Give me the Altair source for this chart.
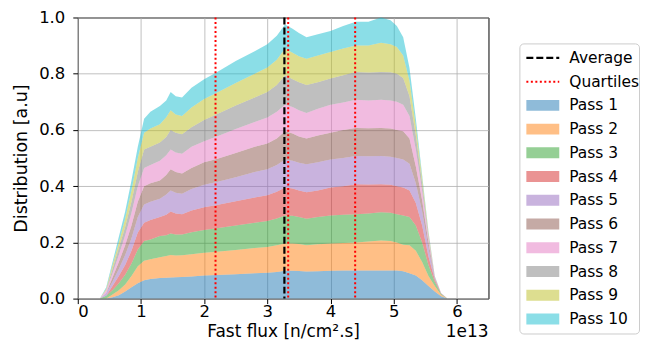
import altair as alt
import pandas as pd

# ---------------- data ----------------
flux = [0.35, 0.45, 0.55, 0.65, 0.75, 0.85, 0.95, 1.05, 1.15, 1.30, 1.40, 1.47, 1.55, 1.65,
        1.80, 2.00, 2.20, 2.50, 2.80, 3.00, 3.15, 3.28, 3.40, 3.50, 3.62, 3.80, 4.00, 4.20,
        4.40, 4.60, 4.80, 4.95, 5.05, 5.15, 5.25, 5.35, 5.45, 5.55, 5.65, 5.75, 5.85]

# upper boundary of each stacked pass (cumulative distribution)
top_pass1 = [0, 0.0, 0.005, 0.012, 0.025, 0.04, 0.055, 0.065, 0.07, 0.073, 0.074, 0.075, 0.076, 0.077,
             0.079, 0.082, 0.084, 0.087, 0.09, 0.092, 0.095, 0.099, 0.099, 0.098, 0.096, 0.097, 0.099, 0.1,
             0.1, 0.1, 0.1, 0.1, 0.1, 0.097, 0.09, 0.082, 0.065, 0.045, 0.025, 0.008, 0]
top_pass2 = [0, 0.0, 0.015, 0.03, 0.05, 0.08, 0.115, 0.135, 0.14, 0.147, 0.152, 0.155, 0.153, 0.154,
             0.158, 0.163, 0.167, 0.173, 0.18, 0.184, 0.19, 0.196, 0.196, 0.194, 0.19, 0.193, 0.196, 0.198,
             0.2, 0.203, 0.207, 0.205, 0.2, 0.192, 0.19, 0.17, 0.13, 0.08, 0.045, 0.014, 0]
top_pass3 = [0, 0.01, 0.03, 0.055, 0.085, 0.125, 0.175, 0.205, 0.21, 0.223, 0.225, 0.232, 0.228, 0.228,
             0.236, 0.244, 0.25, 0.26, 0.27, 0.276, 0.285, 0.296, 0.295, 0.29, 0.284, 0.29, 0.296, 0.298,
             0.3, 0.303, 0.307, 0.305, 0.3, 0.296, 0.29, 0.26, 0.2, 0.12, 0.06, 0.017, 0]
top_pass4 = [0, 0.01, 0.045, 0.08, 0.12, 0.17, 0.235, 0.27, 0.28, 0.29, 0.298, 0.31, 0.303, 0.3,
             0.313, 0.325, 0.333, 0.346, 0.36, 0.368, 0.38, 0.395, 0.392, 0.385, 0.378, 0.385, 0.395, 0.4,
             0.407, 0.406, 0.407, 0.405, 0.4, 0.395, 0.385, 0.34, 0.26, 0.15, 0.068, 0.018, 0]
top_pass5 = [0, 0.02, 0.06, 0.105, 0.155, 0.215, 0.29, 0.335, 0.345, 0.355, 0.37, 0.385, 0.377, 0.373,
             0.39, 0.405, 0.415, 0.432, 0.45, 0.46, 0.475, 0.495, 0.49, 0.483, 0.478, 0.485, 0.495, 0.5,
             0.507, 0.506, 0.507, 0.505, 0.5, 0.495, 0.48, 0.41, 0.31, 0.18, 0.072, 0.019, 0]
top_pass6 = [0, 0.02, 0.075, 0.13, 0.19, 0.26, 0.345, 0.4, 0.41, 0.42, 0.44, 0.46, 0.45, 0.445,
             0.465, 0.485, 0.497, 0.518, 0.54, 0.552, 0.57, 0.595, 0.587, 0.577, 0.57, 0.58, 0.59, 0.6,
             0.607, 0.606, 0.607, 0.605, 0.6, 0.595, 0.57, 0.47, 0.35, 0.2, 0.075, 0.019, 0]
top_pass7 = [0, 0.03, 0.09, 0.155, 0.225, 0.305, 0.4, 0.465, 0.475, 0.49, 0.51, 0.53, 0.52, 0.515,
             0.54, 0.56, 0.577, 0.603, 0.628, 0.644, 0.665, 0.69, 0.682, 0.67, 0.66, 0.675, 0.69, 0.698,
             0.707, 0.705, 0.707, 0.705, 0.7, 0.69, 0.65, 0.53, 0.385, 0.215, 0.077, 0.02, 0]
top_pass8 = [0, 0.03, 0.105, 0.18, 0.255, 0.345, 0.45, 0.53, 0.54, 0.555, 0.575, 0.6, 0.59, 0.585,
             0.61, 0.635, 0.656, 0.687, 0.715, 0.735, 0.76, 0.795, 0.78, 0.77, 0.76, 0.77, 0.783, 0.795,
             0.806, 0.804, 0.806, 0.805, 0.8, 0.785, 0.72, 0.58, 0.41, 0.225, 0.078, 0.02, 0]
top_pass9 = [0, 0.035, 0.12, 0.2, 0.285, 0.385, 0.5, 0.59, 0.605, 0.62, 0.645, 0.67, 0.655, 0.65,
             0.68, 0.71, 0.732, 0.767, 0.8, 0.822, 0.85, 0.89, 0.875, 0.862, 0.853, 0.865, 0.877, 0.89,
             0.9, 0.9, 0.91, 0.905, 0.895, 0.865, 0.775, 0.615, 0.43, 0.235, 0.079, 0.02, 0]
top_pass10 = [0, 0.04, 0.13, 0.22, 0.31, 0.42, 0.54, 0.64, 0.665, 0.685, 0.705, 0.735, 0.72, 0.715,
              0.75, 0.78, 0.805, 0.845, 0.88, 0.905, 0.935, 0.975, 0.96, 0.945, 0.93, 0.94, 0.952, 0.97,
              0.985, 0.985, 1.0, 0.99, 0.97, 0.93, 0.82, 0.64, 0.44, 0.24, 0.08, 0.02, 0]

average_flux = [3.27]
quartile_flux = [2.18, 3.33, 4.39]

pass_names = ["Pass %d" % i for i in range(1, 11)]
pass_colors = ["#1f77b4", "#ff7f0e", "#2ca02c", "#d62728", "#9467bd",
               "#8c564b", "#e377c2", "#7f7f7f", "#bcbd22", "#17becf"]
legend_names = ["Average", "Quartiles"] + pass_names
x_ticks = [0, 1, 2, 3, 4, 5, 6]
y_ticks = [0.0, 0.2, 0.4, 0.6, 0.8, 1.0]

FONT = "DejaVu Sans"
PLOT_W, PLOT_H = 412, 282

# ---------------- build the table ----------------
tops = [top_pass1, top_pass2, top_pass3, top_pass4, top_pass5,
        top_pass6, top_pass7, top_pass8, top_pass9, top_pass10]
rows = []
prev = [0.0] * len(flux)
for name, top in zip(pass_names, tops):
    for xv, lo, hi in zip(flux, prev, top):
        rows.append({"x": xv, "lo": lo, "hi": hi, "series": name})
    prev = top
df = pd.DataFrame(rows)

X = alt.X("x:Q",
          scale=alt.Scale(domain=[0, 6.5], nice=False, zero=False),
          axis=alt.Axis(values=x_ticks, format="d", title="Fast flux [n/cm².s]",
                        titlePadding=4, labelPadding=0, titleFontSize=17))

areas = alt.Chart(df).mark_area(opacity=0.5, interpolate="linear").encode(
    x=X,
    y=alt.Y("lo:Q", stack=None,
            scale=alt.Scale(domain=[0, 1], nice=False),
            axis=alt.Axis(values=y_ticks, format=".1f", title="Distribution [a.u]",
                          titlePadding=8.5, labelPadding=8)),
    y2="hi:Q",
    color=alt.Color("series:N", scale=alt.Scale(domain=pass_names, range=pass_colors), legend=None),
)

avg_rule = alt.Chart(pd.DataFrame({"x": average_flux})).mark_rule(
    color="black", strokeDash=[7, 3], strokeWidth=2.2).encode(x=X)
q_rule = alt.Chart(pd.DataFrame({"x": quartile_flux})).mark_rule(
    color="#ff0000", strokeDash=[2, 2.5], strokeWidth=2).encode(x=X)

offset_txt = alt.Chart(pd.DataFrame({"t": ["1e13"]})).mark_text(
    align="right", baseline="middle", fontSize=17, font=FONT, color="black").encode(
    x=alt.value(PLOT_W), y=alt.value(PLOT_H + 34), text="t:N")

main = alt.layer(areas, avg_rule, q_rule, offset_txt).properties(
    width=PLOT_W, height=PLOT_H,
    view=alt.ViewBackground(stroke="black", strokeWidth=1))

# ---------------- legend panel ----------------
leg_df = pd.DataFrame({"name": legend_names})
LY = alt.Y("name:N", scale=alt.Scale(type="point", domain=legend_names, padding=0.61), axis=None)

leg_avg = alt.Chart(leg_df).transform_filter(alt.datum.name == "Average").mark_rule(
    color="black", strokeDash=[7, 3], strokeWidth=2.2).encode(
    y=LY, x=alt.value(7), x2=alt.value(40))
leg_q = alt.Chart(leg_df).transform_filter(alt.datum.name == "Quartiles").mark_rule(
    color="#ff0000", strokeDash=[2, 2.5], strokeWidth=2).encode(
    y=LY, x=alt.value(7), x2=alt.value(40))
leg_pass = alt.Chart(leg_df).transform_filter(
    alt.FieldOneOfPredicate(field="name", oneOf=pass_names)).mark_rule(
    strokeWidth=11, opacity=0.5, strokeCap="butt").encode(
    y=LY, x=alt.value(7), x2=alt.value(40),
    color=alt.Color("name:N", scale=alt.Scale(domain=pass_names, range=pass_colors), legend=None))
leg_txt = alt.Chart(leg_df).mark_text(
    align="left", baseline="middle", fontSize=15.5, font=FONT, color="black").encode(
    y=LY, x=alt.value(50), text="name:N")

legend_panel = alt.layer(leg_avg, leg_q, leg_pass, leg_txt).properties(
    width=120, height=291,
    view=alt.ViewBackground(stroke="#cccccc", strokeWidth=1, cornerRadius=4))

spacer = alt.Chart(pd.DataFrame({"a": [0]})).mark_point(opacity=0, size=1).encode(
    x=alt.value(0), y=alt.value(0)).properties(
    width=120, height=4, view=alt.ViewBackground(stroke="transparent"))

right = alt.vconcat(spacer, legend_panel, spacing=20)

chart = alt.hconcat(main, right, spacing=29).properties(
    padding={"left": 3, "top": 0, "right": 0, "bottom": 0}
).configure(font=FONT).configure_axis(
    labelFont=FONT, labelFontSize=16.5, labelColor="black",
    titleFont=FONT, titleFontSize=17.5, titleFontWeight="normal", titleColor="black",
    tickColor="black", tickSize=5, domain=False,
    gridColor="#b0b0b0", gridWidth=0.8,
).resolve_scale(color="independent")

chart.save("out.html", embed_options={"renderer": "svg", "actions": False})
